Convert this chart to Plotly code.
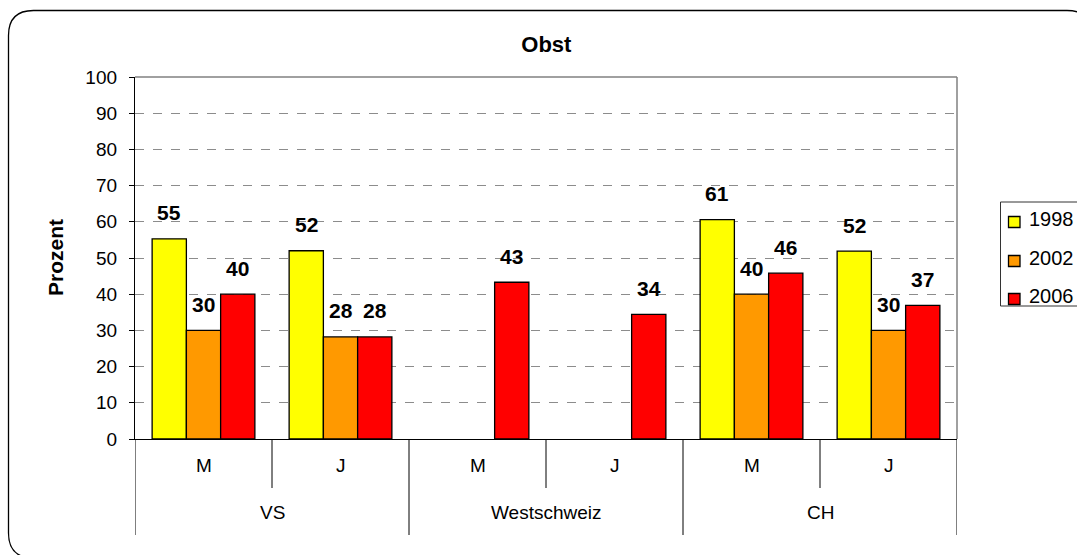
import plotly.graph_objects as go

groups = ["VS", "Westschweiz", "CH"]
sub = ["M", "J", "M", "J", "M", "J"]
years = ["1998", "2002", "2006"]
v1998 = [55.3, 52.0, None, None, 60.6, 51.9]
v2002 = [30.0, 28.2, None, None, 40.0, 30.0]
v2006 = [40.0, 28.2, 43.3, 34.4, 45.8, 36.9]
colors = ["#FFFF00", "#FF9900", "#FF0000"]
yticks = list(range(0, 101, 10))

FONT = "Liberation Sans, Arial, sans-serif"
W, H = 1077, 555
# plot area in screen coordinates
SX0, SX1, SY0, SY1 = 135, 957, 77, 439
L, R, T, B = SX0, W - SX1, SY0, H - SY1
pw, ph = W - L - R, H - T - B


def px(x):
    return (x - L) / pw


def py(y):
    return (H - B - y) / ph


xpos = list(range(len(sub)))

fig = go.Figure()
series = [v1998, v2002, v2006]
for name, vals, col in zip(years, series, colors):
    fig.add_trace(go.Bar(
        x=xpos, y=vals, name=name, showlegend=False,
        marker=dict(color=col, line=dict(color="black", width=1.3)),
    ))

# data labels
offsets = [-0.25, 0.0, 0.25]
for vals, off in zip(series, offsets):
    for i, v in enumerate(vals):
        if v is None:
            continue
        fig.add_annotation(
            x=xpos[i] + off, y=v, xref="x", yref="y", text="<b>%d</b>" % round(v),
            showarrow=False, yshift=26, xanchor="center", yanchor="middle",
            font=dict(family=FONT, size=21, color="black"),
        )

# category labels (two levels)
for i, s in enumerate(sub):
    fig.add_annotation(x=xpos[i], y=py(465), xref="x", yref="paper", text=s,
                       showarrow=False, xanchor="center", yanchor="middle",
                       font=dict(family=FONT, size=19))
for g, name in enumerate(groups):
    fig.add_annotation(x=2 * g + 0.5, y=py(512), xref="x", yref="paper", text=name,
                       showarrow=False, xanchor="center", yanchor="middle",
                       font=dict(family=FONT, size=19))

# category boundary ticks
for k in range(len(sub) + 1):
    xb = k - 0.5
    yend = py(535) if k % 2 == 0 else py(488)
    fig.add_shape(type="line", xref="x", yref="paper", x0=xb, x1=xb, y0=0, y1=yend,
                  line=dict(color="black", width=1))

# y-axis title
fig.add_annotation(x=px(55), y=py(258), xref="paper", yref="paper",
                   text="<b>Prozent</b>", textangle=-90, showarrow=False,
                   xanchor="center", yanchor="middle",
                   font=dict(family=FONT, size=21))

# legend (drawn manually, cut by the right edge like the original)
fig.add_shape(type="rect", xref="paper", yref="paper",
              x0=px(1000.5), x1=px(1090), y0=py(306), y1=py(202),
              line=dict(color="#333333", width=1), fillcolor="white")
sq_c = [222, 261, 299]
tx_c = [219, 258, 296]
for name, col, sc, tc in zip(years, colors, sq_c, tx_c):
    fig.add_shape(type="rect", xref="paper", yref="paper",
                  x0=px(1008.5), x1=px(1020), y0=py(sc + 5.5), y1=py(sc - 5.5),
                  line=dict(color="black", width=1.3), fillcolor=col)
    fig.add_annotation(x=px(1027), y=py(tc), xref="paper", yref="paper", text=name,
                       showarrow=False, xanchor="left", yanchor="middle",
                       font=dict(family=FONT, size=20))

# rounded border
x0, x1 = px(8.5), px(1092)
y0, y1 = py(558), py(10.5)
rx, ry = 25 / pw, 25 / ph
path = (f"M {x0+rx} {y1} L {x1-rx} {y1} Q {x1} {y1} {x1} {y1-ry} "
        f"L {x1} {y0+ry} Q {x1} {y0} {x1-rx} {y0} L {x0+rx} {y0} "
        f"Q {x0} {y0} {x0} {y0+ry} L {x0} {y1-ry} Q {x0} {y1} {x0+rx} {y1} Z")
fig.add_shape(type="path", path=path, xref="paper", yref="paper",
              line=dict(color="black", width=1.3), layer="below")

# top & right plot border
fig.add_shape(type="line", xref="paper", yref="paper", x0=0, x1=1, y0=1, y1=1,
              line=dict(color="#808080", width=1.5))
fig.add_shape(type="line", xref="paper", yref="paper", x0=1, x1=1, y0=0, y1=1,
              line=dict(color="#808080", width=1.5))

fig.update_layout(
    width=W, height=H,
    margin=dict(l=L, r=R, t=T, b=B),
    paper_bgcolor="white", plot_bgcolor="white",
    barmode="group", bargap=0.25, bargroupgap=0,
    font=dict(family=FONT, size=19, color="black"),
    title=dict(text="<b>Obst</b>", x=px(552), xanchor="center",
               y=1 - 44 / H, yanchor="middle", font=dict(size=22)),
    showlegend=False,
)
fig.update_yaxes(
    range=[0, 100], tickvals=yticks, showgrid=True, gridcolor="#8c8c8c",
    griddash="dash", gridwidth=1, showline=True, linecolor="black", linewidth=1.3,
    ticks="outside", ticklen=5, tickcolor="black", zeroline=False,
    tickfont=dict(size=19), ticklabelstandoff=8,
)
fig.update_xaxes(
    range=[-0.5, len(sub) - 0.5], showticklabels=False, ticks="",
    showline=True, linecolor="black", linewidth=1.3, showgrid=False,
    zeroline=False,
)

fig.write_html(
    "out.html",
    config={"displayModeBar": False},
    post_script="document.body.style.margin='0';document.body.style.overflow='hidden';",
)
